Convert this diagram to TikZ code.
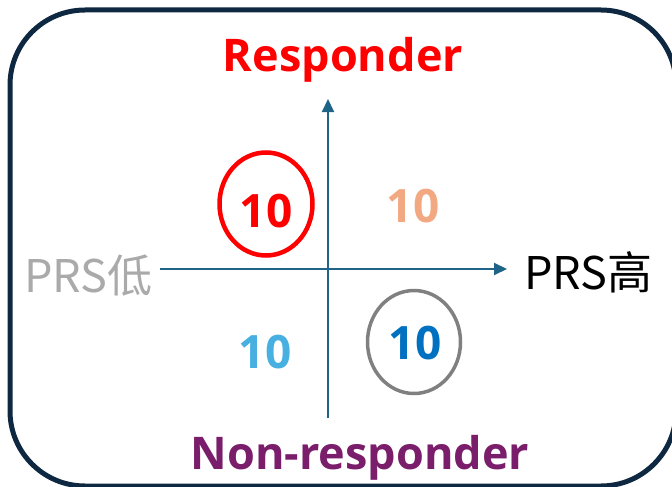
\documentclass[tikz,border=0pt]{standalone}
\usepackage{fontspec}
\setmainfont{Open Sans}
\newfontfamily\cjk{Noto Sans CJK SC}
\usetikzlibrary{arrows.meta,shapes.geometric}

\definecolor{frame}{HTML}{0E2841}
\definecolor{axis}{HTML}{1F6386}
\definecolor{peach}{HTML}{F2A982}
\definecolor{sky}{HTML}{47B0E0}
\definecolor{deepblue}{HTML}{0070C0}
\definecolor{plum}{HTML}{7A1E6B}
\definecolor{lowgray}{HTML}{AAAAAA}

\begin{document}
\begin{tikzpicture}[x=1pt, y=-1pt,
  num/.style={font=\fontsize{46}{50}\selectfont\bfseries, inner sep=0pt, anchor=base},
  title/.style={font=\fontsize{45}{50}\selectfont\bfseries, inner sep=0pt, anchor=base},
  prs/.style={font=\fontsize{45}{50}\selectfont\cjk, inner sep=0pt, anchor=base west},
  ring/.style={draw, ellipse, inner sep=0pt, minimum width=93pt, minimum height=103pt},
  ax/.style={axis, line width=2pt, -{Triangle[length=13pt, width=12pt]}}]
  \clip (0,0) rectangle (672,487);

  % outer frame, partly cut off at right and bottom
  \draw[frame, line width=5pt, rounded corners=75pt] (10,10) rectangle (676,486);

  % axis labels (placed by baseline)
  \node[title, red] (resp) at (343,72) {Responder};
  \node[title, plum] (nonresp) at (360,469) {Non-responder};
  \node[prs, lowgray] (low) at (24,292) {PRS低};
  \node[prs] (high) at (524,289) {PRS高};

  % axes
  \coordinate (ybot) at (328,418);
  \coordinate (ytop) at (328,99);
  \coordinate (xleft) at (160,269);
  \coordinate (xright) at (507,269);
  \draw[ax] (ybot) -- (ytop);
  \draw[ax] (xleft) -- (xright);

  % quadrant counts
  \node[ring, red, line width=4.5pt] (r1) at (266,204) {};
  \node[num, red] (q1) at (266,227) {10};
  \node[num, peach] (q2) at (413,222) {10};
  \node[num, sky] (q3) at (265,368) {10};
  \node[ring, gray, line width=3.5pt] (r4) at (414,342) {};
  \node[num, deepblue] (q4) at (415,359) {10};
\end{tikzpicture}
\end{document}
